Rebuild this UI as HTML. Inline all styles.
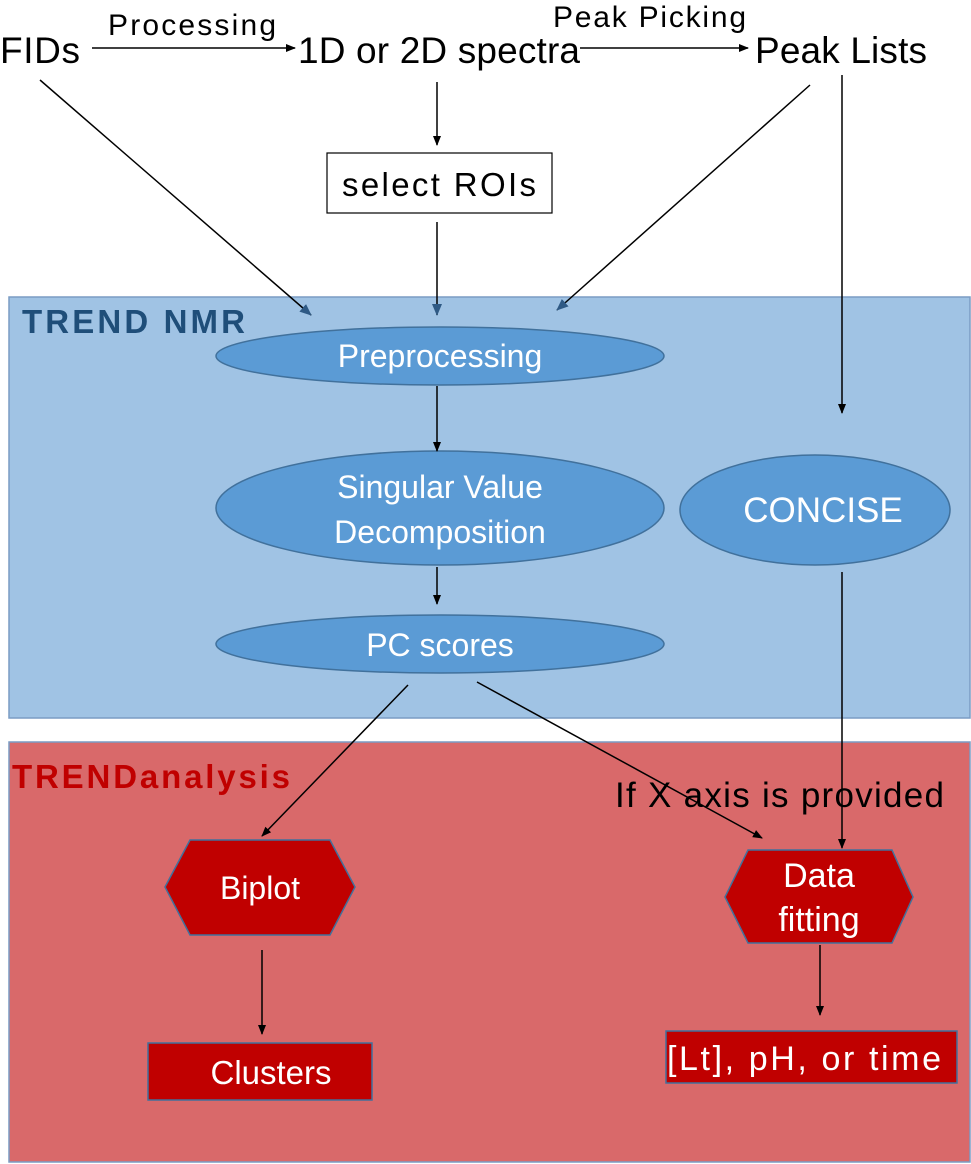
<!DOCTYPE html>
<html><head><style>body{margin:0;background:#fff}svg{display:block}text{font-family:"Liberation Sans",sans-serif}</style></head><body>
<svg width="971" height="1164" viewBox="0 0 971 1164" xmlns="http://www.w3.org/2000/svg">
<defs><marker id="a" markerWidth="10" markerHeight="10" refX="9" refY="5" orient="auto" markerUnits="userSpaceOnUse"><path d="M0,1 L10,5 L0,9 z" fill="#000"/></marker>
<marker id="b" markerWidth="12" markerHeight="12" refX="11" refY="6" orient="auto" markerUnits="userSpaceOnUse"><path d="M0,1 L12,6 L0,11 z" fill="#2f5a85"/></marker></defs>
<rect x="9" y="297" width="961" height="421" fill="#a0c3e4" stroke="#7a9cc4" stroke-width="1.5"/>
<rect x="9" y="742" width="961" height="420" fill="#d9696a" stroke="#7a9cc4" stroke-width="1.5"/>
<text x="22" y="333" font-size="33" font-weight="bold" fill="#1f4e79" textLength="223">TREND NMR</text>
<text x="12" y="788" font-size="33" font-weight="bold" fill="#c00000" textLength="278">TRENDanalysis</text>
<text x="0" y="63" font-size="37" textLength="80">FIDs</text>
<text x="298" y="63" font-size="37" textLength="282">1D or 2D spectra</text>
<text x="755" y="63" font-size="37" textLength="172">Peak Lists</text>
<text x="108" y="35" font-size="30" textLength="168">Processing</text>
<text x="553" y="27" font-size="30" textLength="193">Peak Picking</text>
<rect x="327" y="153" width="225" height="60" fill="#fff" stroke="#000" stroke-width="1.2"/>
<text x="342" y="196" font-size="33" textLength="194">select ROIs</text>
<g fill="#5b9bd5" stroke="#41719c" stroke-width="1.5">
<ellipse cx="440" cy="356" rx="224" ry="29"/>
<ellipse cx="440" cy="508" rx="224" ry="57"/>
<ellipse cx="440" cy="644" rx="224" ry="29"/>
<ellipse cx="815" cy="510" rx="135" ry="55"/>
</g>
<g fill="#fff" font-size="32" text-anchor="middle">
<text x="440" y="367">Preprocessing</text>
<text x="440" y="498">Singular Value</text>
<text x="440" y="543">Decomposition</text>
<text x="440" y="656">PC scores</text>
<text x="823" y="522" font-size="35">CONCISE</text>
</g>
<g fill="#c00000" stroke="#41719c" stroke-width="1.5">
<polygon points="165,887 190,840 330,840 355,887 330,935 190,935"/>
<polygon points="725,897 748,850 892,850 913,897 892,943 748,943"/>
<rect x="148" y="1043" width="224" height="57"/>
<rect x="666" y="1031" width="291" height="52"/>
</g>
<g fill="#fff" font-size="32" text-anchor="middle">
<text x="260" y="899">Biplot</text>
<text x="819" y="887" font-size="34">Data</text>
<text x="819" y="931" font-size="34">fitting</text>
<text x="271" y="1084" font-size="33">Clusters</text>
</g>
<text x="667" y="1070" font-size="34" fill="#fff" textLength="274">[Lt], pH, or time</text>
<text x="615" y="807" font-size="35" textLength="329">If X axis is provided</text>
<g stroke="#000" stroke-width="1.5" fill="none" marker-end="url(#a)">
<line x1="92" y1="48" x2="295" y2="48"/>
<line x1="580" y1="48" x2="748" y2="48"/>
<line x1="437" y1="82" x2="437" y2="145"/>
<line x1="842" y1="75" x2="842" y2="413"/>
<line x1="842" y1="572" x2="842" y2="848"/>
<line x1="437" y1="386" x2="437" y2="451"/>
<line x1="437" y1="567" x2="437" y2="604"/>
<line x1="408" y1="685" x2="262" y2="836"/>
<line x1="477" y1="682" x2="762" y2="838"/>
<line x1="820" y1="945" x2="820" y2="1015"/>
<line x1="262" y1="950" x2="262" y2="1034"/>
</g>
<g stroke="#000" stroke-width="1.5" fill="none" marker-end="url(#b)">
<line x1="40" y1="80" x2="311" y2="315"/>
<line x1="437" y1="222" x2="437" y2="315"/>
<line x1="810" y1="85" x2="557" y2="310"/>
</g>
</svg>
</body></html>
